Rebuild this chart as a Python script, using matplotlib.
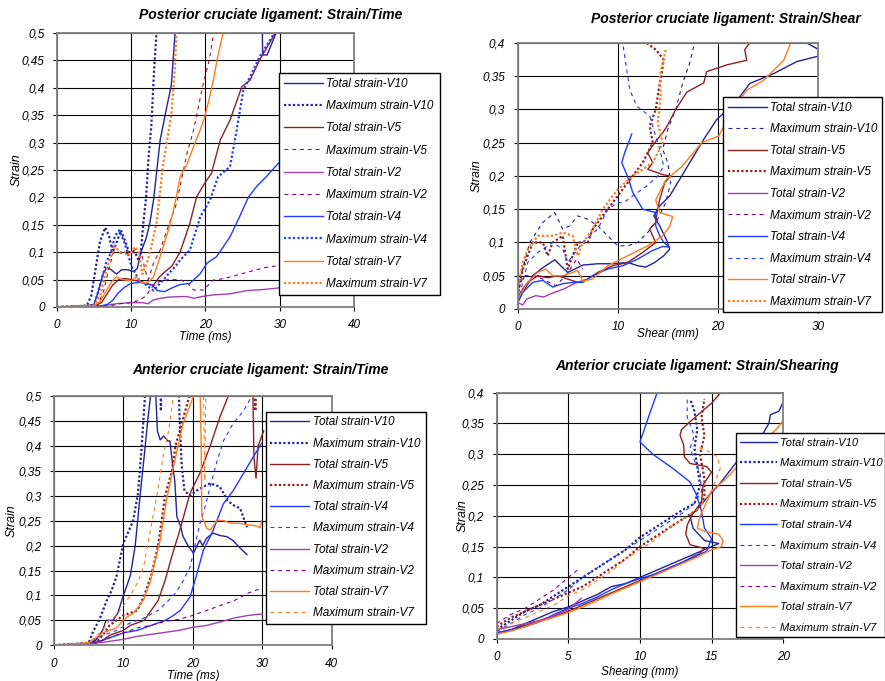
import matplotlib
matplotlib.use("Agg")
import matplotlib.pyplot as plt
from matplotlib.ticker import FuncFormatter, MultipleLocator

plt.rcParams['font.family'] = ['Liberation Sans', 'DejaVu Sans']
plt.rcParams['font.style'] = 'italic'

# ---- Posterior cruciate ligament: strain / time  (t ms, strain)
p1_v10_tot = [(0, 0), (4, 0.002), (5, 0.005), (5.6, 0.03), (6.2, 0.06), (6.7, 0.072), (7.3, 0.068), (8, 0.06),
              (8.7, 0.068), (9.5, 0.068), (10.3, 0.065), (10.8, 0.07), (11.3, 0.1), (12, 0.125), (12.5, 0.153),
              (13, 0.195), (13.9, 0.305), (14.8, 0.366), (15.4, 0.405), (15.9, 0.5), (16.2, 0.55), (27.6, 0.55),
              (27.7, 0.46), (28.3, 0.46), (29.5, 0.5)]
p1_v10_max = [(0, 0), (4, 0.002), (4.6, 0.02), (5.2, 0.07), (5.8, 0.12), (6.5, 0.145), (7, 0.13), (7.5, 0.1),
              (8.1, 0.12), (8.6, 0.14), (9.2, 0.12), (9.7, 0.1), (10.5, 0.1), (11, 0.085), (11.3, 0.1),
              (11.6, 0.15), (12, 0.2), (12.3, 0.268), (12.7, 0.33), (13.1, 0.438), (13.4, 0.5)]
p1_v5_tot = [(0, 0), (5, 0.002), (6, 0.008), (6.8, 0.025), (7.5, 0.04), (8.3, 0.05), (9.2, 0.052), (10, 0.05),
             (11, 0.047), (12, 0.042), (13, 0.04), (13.8, 0.055), (14.6, 0.065), (15.5, 0.075), (16.6, 0.101),
             (17.9, 0.153), (18.8, 0.201), (19.9, 0.226), (20.8, 0.244), (22, 0.305), (23.3, 0.341),
             (24.9, 0.402), (26, 0.414), (27.3, 0.451), (29.4, 0.5)]
p1_v5_max = [(0, 0), (5.5, 0.003), (6.3, 0.03), (7, 0.07), (7.6, 0.1), (8.3, 0.1), (9, 0.095), (9.8, 0.1),
             (10.6, 0.105), (11.3, 0.105), (11.8, 0.07), (12.3, 0.05), (13, 0.08), (13.9, 0.104), (14.8, 0.14),
             (16.1, 0.189), (17.5, 0.28), (18.4, 0.323), (19.7, 0.408), (20.5, 0.45), (21.1, 0.5)]
p1_v2_tot = [(0, 0), (6, 0.002), (7, 0.004), (8, 0.006), (10, 0.008), (11.5, 0.008), (12.3, 0.006), (13, 0.013),
             (14, 0.016), (15, 0.018), (16.6, 0.019), (17.5, 0.019), (18.4, 0.016), (19.5, 0.019), (21, 0.022),
             (23.3, 0.024), (25.6, 0.03), (27.9, 0.032), (30, 0.035)]
p1_v2_max = [(0, 0), (7, 0.002), (8.5, 0.006), (10, 0.008), (11, 0.012), (12, 0.02), (12.7, 0.035),
             (13.5, 0.045), (15, 0.05), (16.5, 0.05), (17.5, 0.045), (18.4, 0.031), (19.7, 0.031),
             (21.05, 0.049), (22.5, 0.052), (24.2, 0.058), (25.5, 0.063), (26.9, 0.068), (28, 0.072),
             (29.6, 0.075), (30, 0.077)]
p1_v4_tot = [(0, 0), (6, 0.002), (6.8, 0.005), (7.5, 0.012), (8.2, 0.025), (9, 0.035), (9.8, 0.042),
             (10.5, 0.044), (11.2, 0.045), (12, 0.043), (12.8, 0.04), (13.5, 0.03), (14.5, 0.028), (15.5, 0.035),
             (16.6, 0.041), (17.9, 0.043), (19.3, 0.061), (20.2, 0.08), (21.5, 0.092), (22.4, 0.11),
             (23.3, 0.128), (24.6, 0.165), (25.8, 0.201), (26.9, 0.22), (28.2, 0.238), (29.8, 0.262), (30, 0.265)]
p1_v4_max = [(0, 0), (5, 0.003), (5.8, 0.04), (6.6, 0.08), (7.3, 0.1), (7.8, 0.13), (8.4, 0.14), (9, 0.12),
             (9.5, 0.1), (10, 0.075), (11, 0.05), (12, 0.04), (13, 0.03), (14, 0.045), (15, 0.06), (16, 0.075),
             (16.6, 0.086), (17.9, 0.104), (18.5, 0.13), (19.3, 0.165), (20.6, 0.195), (21.7, 0.238),
             (23.3, 0.256), (24.2, 0.323), (25.1, 0.396), (26, 0.42), (27.3, 0.457), (29.1, 0.496), (29.3, 0.5)]
p1_v7_tot = [(0, 0), (5, 0.002), (5.8, 0.01), (6.7, 0.031), (7.3, 0.045), (8, 0.055), (8.7, 0.05), (9.4, 0.049),
             (10, 0.048), (10.7, 0.055), (11.3, 0.045), (11.9, 0.043), (12.5, 0.048), (13, 0.055), (13.6, 0.08),
             (14.3, 0.11), (15, 0.14), (15.7, 0.177), (16.6, 0.238), (17.5, 0.26), (18.4, 0.293), (19.2, 0.32),
             (19.9, 0.347), (20.5, 0.38), (21.05, 0.414), (21.7, 0.46), (22.4, 0.502)]
p1_v7_max = [(0, 0), (5, 0.003), (5.8, 0.02), (6.5, 0.06), (7.2, 0.09), (7.8, 0.11), (8.5, 0.1), (9.2, 0.1),
             (9.8, 0.095), (10.5, 0.11), (11, 0.1), (11.5, 0.06), (12.1, 0.08), (12.7, 0.11), (13.4, 0.153),
             (13.8, 0.2), (14.3, 0.262), (14.8, 0.3), (15.4, 0.353), (15.8, 0.42), (16.1, 0.5)]

# ---- Posterior cruciate ligament: strain / shear  (mm, strain)
p2_v10_tot = [(0, 0.01), (0.5, 0.025), (1.5, 0.05), (2.5, 0.062), (3.7, 0.074), (4.3, 0.065), (5, 0.055),
              (5.7, 0.06), (6.5, 0.066), (8, 0.068), (9.5, 0.068), (11, 0.07), (12, 0.065), (12.8, 0.063),
              (13.7, 0.07), (14.6, 0.08), (15.2, 0.09), (14.9, 0.103), (14.2, 0.125), (13.6, 0.14), (14.2, 0.155),
              (15.2, 0.17), (16.2, 0.195), (17.2, 0.22), (18.6, 0.255), (19.9, 0.285), (21, 0.3), (22.2, 0.319),
              (23.2, 0.339), (25.6, 0.354), (27.9, 0.372), (30, 0.38), (30.1, 0.39), (28.9, 0.4)]
p2_v10_max = [(0, 0.02), (0.5, 0.06), (1.2, 0.1), (2.5, 0.13), (3.7, 0.145), (4.5, 0.12), (5.2, 0.125),
              (6, 0.14), (7, 0.135), (8, 0.125), (9, 0.11), (10, 0.095), (11, 0.095), (12, 0.1), (13, 0.115),
              (14, 0.135), (14.8, 0.16), (15.3, 0.19), (15, 0.22), (14.5, 0.24), (15, 0.27), (15.8, 0.3),
              (16.5, 0.34), (17.2, 0.37), (17.6, 0.395)]
p2_v5_tot = [(0, 0.015), (0.5, 0.03), (1, 0.04), (2, 0.05), (3, 0.047), (4, 0.05), (5, 0.045), (6, 0.04),
             (7, 0.045), (8, 0.055), (9.5, 0.065), (11, 0.07), (12.5, 0.085), (13.8, 0.1), (13.2, 0.12),
             (13.8, 0.13), (14, 0.15), (14.2, 0.165), (14.7, 0.19), (15.3, 0.2), (14.5, 0.202), (13, 0.21),
             (13.5, 0.22), (13, 0.235), (13.7, 0.25), (14.5, 0.265), (14.9, 0.274), (15.8, 0.3), (16.9, 0.326),
             (18.6, 0.34), (18.9, 0.357), (20.9, 0.367), (22.9, 0.374), (22.7, 0.39), (23.2, 0.4)]
p2_v5_max = [(0, 0.02), (0.5, 0.06), (1, 0.08), (1.5, 0.1), (2.5, 0.1), (3, 0.08), (3.5, 0.1), (4.5, 0.11),
             (5, 0.06), (5.5, 0.08), (6, 0.1), (7, 0.1), (7.5, 0.12), (8.5, 0.14), (9.5, 0.16), (10.5, 0.18),
             (11.5, 0.2), (12.5, 0.22), (13.5, 0.25), (13.2, 0.275), (13.8, 0.3), (14.1, 0.33), (14.4, 0.355),
             (14.6, 0.375), (13.8, 0.39), (12.9, 0.4)]
p2_v2_tot = [(0, 0.01), (0.5, 0.006), (0.9, 0.015), (1.8, 0.02), (2.6, 0.018), (3.5, 0.024), (4.6, 0.03),
             (5.9, 0.04), (6.6, 0.042)]
p2_v2_max = [(0, 0.03), (0.6, 0.05), (1.5, 0.05), (2.5, 0.045), (3.8, 0.035), (4.8, 0.05), (5.9, 0.075),
             (6.5, 0.06)]
p2_v4_tot = [(0, 0.01), (0.5, 0.025), (1.5, 0.04), (2.5, 0.043), (3.5, 0.033), (4.5, 0.038), (5.5, 0.04),
             (6.5, 0.04), (7.5, 0.05), (9, 0.06), (10.5, 0.065), (12, 0.075), (13.5, 0.088), (14.5, 0.094),
             (15.2, 0.093), (14.6, 0.1), (14.2, 0.11), (13.8, 0.125), (13.8, 0.145), (12.5, 0.15), (12.1, 0.16),
             (11.5, 0.175), (11.1, 0.195), (10.4, 0.22), (10.7, 0.235), (11.4, 0.263)]
p2_v4_max = [(0, 0.01), (0.5, 0.04), (1, 0.07), (2, 0.085), (2.5, 0.09), (3.5, 0.1), (4.5, 0.09), (5, 0.07),
             (5.5, 0.08), (6.5, 0.1), (8, 0.12), (9, 0.15), (10, 0.16), (10.6, 0.16), (11.5, 0.17), (12.9, 0.185),
             (14, 0.2), (14.6, 0.215), (14.2, 0.24), (13.9, 0.255), (13.2, 0.29), (11.9, 0.305), (11.2, 0.33),
             (10.8, 0.37), (10.6, 0.39), (10.5, 0.4)]
p2_v7_tot = [(0, 0.015), (1, 0.04), (2, 0.055), (2.8, 0.06), (3.5, 0.05), (4.5, 0.05), (5.5, 0.055), (6, 0.058),
             (6.5, 0.042), (7.5, 0.045), (9, 0.065), (11, 0.08), (13, 0.095), (14.5, 0.11), (15.2, 0.124),
             (15.5, 0.139), (14.2, 0.145), (13.8, 0.164), (14.8, 0.194), (16.4, 0.214), (18.4, 0.25),
             (20.1, 0.26), (21.5, 0.3), (22.9, 0.329), (24.6, 0.344), (25.6, 0.359), (26.6, 0.374), (27.3, 0.4)]
p2_v7_max = [(0, 0.03), (0.5, 0.07), (1, 0.09), (2, 0.11), (3.5, 0.11), (4.5, 0.115), (5.5, 0.11), (6, 0.08),
             (6.5, 0.1), (7.5, 0.12), (8.5, 0.15), (10, 0.18), (11.5, 0.2), (12.5, 0.21), (13.5, 0.22),
             (14.5, 0.25), (14, 0.28), (14.3, 0.32), (14.2, 0.35), (14.5, 0.37), (14.8, 0.39)]

# ---- Anterior cruciate ligament: strain / time
p3_v10_tot = [(0, 0), (5, 0.003), (6, 0.01), (7, 0.03), (7.5, 0.05), (8.5, 0.05), (9.2, 0.065), (10, 0.1),
              (11, 0.14), (11.7, 0.2), (12.4, 0.3), (13, 0.38), (13.5, 0.45), (13.9, 0.5), (14.1, 0.52),
              (14.6, 0.52), (14.9, 0.43), (15.3, 0.412), (15.8, 0.42), (16.4, 0.41), (16.7, 0.41), (17.1, 0.36),
              (17.4, 0.33), (17.7, 0.258), (18.2, 0.24), (18.6, 0.218), (19.3, 0.2), (20.1, 0.185), (20.6, 0.2),
              (21, 0.211), (21.4, 0.2), (22, 0.215), (22.9, 0.225), (24, 0.22), (24.9, 0.218), (25.8, 0.21),
              (26.6, 0.198), (27.8, 0.182)]
p3_v10_max = [(0, 0), (5, 0.005), (5.7, 0.03), (6.5, 0.05), (7.6, 0.09), (8.3, 0.11), (9, 0.138), (10, 0.205),
              (11.4, 0.25), (12.1, 0.305), (12.6, 0.392), (13.1, 0.5), (13.5, 0.55), (15.3, 0.55), (15.4, 0.47),
              (15.5, 0.55), (17.9, 0.55), (18.1, 0.45), (18.4, 0.36), (18.8, 0.31), (19.6, 0.3), (20.5, 0.31),
              (21.5, 0.318), (22.5, 0.325), (23.9, 0.318), (25, 0.29), (26, 0.28), (26.8, 0.275), (27.8, 0.237)]
p3_v5_tot = [(0, 0), (6, 0.005), (7, 0.01), (8, 0.02), (9, 0.025), (10, 0.03), (11, 0.04), (12, 0.045),
             (13, 0.05), (14, 0.07), (15, 0.09), (16, 0.13), (17, 0.18), (18, 0.225), (19.6, 0.305), (21, 0.345),
             (22.5, 0.4), (23.9, 0.458), (25.1, 0.5), (25.5, 0.55), (28.6, 0.55), (28.8, 0.378), (29.1, 0.335),
             (29.4, 0.4), (30.2, 0.43)]
p3_v5_max = [(0, 0), (6, 0.005), (7, 0.02), (8, 0.04), (9, 0.05), (10, 0.06), (11, 0.065), (12, 0.07),
             (13, 0.1), (14, 0.14), (15, 0.2), (15.5, 0.25), (16, 0.3), (17, 0.35), (17.5, 0.4), (18.5, 0.45),
             (19.5, 0.5), (20, 0.55), (28.8, 0.55), (29, 0.47), (29.2, 0.55)]
p3_v4_tot = [(0, 0), (5, 0.003), (7, 0.01), (9, 0.02), (10, 0.025), (12, 0.03), (13, 0.035), (14, 0.04),
             (15, 0.045), (16, 0.05), (17, 0.058), (18.2, 0.07), (19.6, 0.097), (20.6, 0.144), (21.5, 0.19),
             (22.9, 0.23), (24.4, 0.284), (25.8, 0.31), (27.3, 0.345), (28.7, 0.378), (29.9, 0.405)]
p3_v4_max = [(0, 0), (5, 0.005), (7, 0.02), (9, 0.03), (11, 0.045), (13, 0.055), (15, 0.07), (16.5, 0.09),
             (17.5, 0.105), (18.4, 0.124), (19.6, 0.157), (20.3, 0.2), (21, 0.243), (21.8, 0.28), (22.5, 0.318),
             (23.5, 0.37), (24.4, 0.41), (25.8, 0.445), (27.3, 0.47), (28.5, 0.5)]
p3_v2_tot = [(0, 0), (5, 0.003), (7, 0.006), (9, 0.01), (10, 0.012), (12, 0.018), (14, 0.022), (16, 0.026),
             (18, 0.03), (20, 0.036), (22, 0.04), (24, 0.047), (26, 0.055), (28, 0.06), (30, 0.063)]
p3_v2_max = [(0, 0), (5, 0.003), (7, 0.01), (9, 0.02), (10, 0.025), (12, 0.035), (14, 0.04), (16, 0.048),
             (18, 0.052), (20, 0.06), (22, 0.07), (24, 0.08), (26, 0.09), (28, 0.105), (30, 0.115)]
p3_v7_tot = [(0, 0), (5, 0.005), (6, 0.015), (7, 0.025), (8, 0.03), (9, 0.035), (10, 0.05), (10.5, 0.057),
             (11.5, 0.065), (12.9, 0.091), (13.8, 0.125), (15.3, 0.211), (16.2, 0.291), (17.2, 0.358),
             (18.6, 0.445), (20.1, 0.5), (20.5, 0.55), (21, 0.55), (21.2, 0.4), (21.3, 0.258), (22, 0.235),
             (22.5, 0.231), (23.5, 0.251), (24.5, 0.25), (25.4, 0.245), (26.5, 0.245), (27.8, 0.242),
             (29, 0.24), (29.7, 0.236), (29.9, 0.25)]
p3_v7_max = [(0, 0), (5, 0.005), (7, 0.03), (8, 0.05), (9, 0.06), (10, 0.08), (11, 0.1), (12, 0.125),
             (12.9, 0.157), (13.8, 0.225), (14.8, 0.298), (15.7, 0.378), (16.5, 0.43), (17.2, 0.5), (17.5, 0.55),
             (21.5, 0.55), (21.7, 0.33), (21.9, 0.55)]

# ---- Anterior cruciate ligament: strain / shearing
p4_v10_tot = [(0, 0.008), (1, 0.015), (2, 0.025), (3, 0.035), (4, 0.045), (5, 0.052), (6, 0.062), (7, 0.072),
              (8, 0.085), (9, 0.09), (10, 0.1), (11, 0.11), (12, 0.12), (13, 0.13), (14, 0.14), (15, 0.15),
              (15.5, 0.155), (14.5, 0.16), (13.7, 0.18), (13.5, 0.2), (14, 0.21), (14.7, 0.23), (15.5, 0.25),
              (16.5, 0.28), (17.5, 0.31), (18.5, 0.33), (19, 0.35), (19.1, 0.364), (19.7, 0.37), (20, 0.385)]
p4_v10_max = [(0, 0.015), (1, 0.03), (2, 0.045), (3, 0.055), (4, 0.07), (5, 0.085), (6, 0.1), (7, 0.115),
              (8, 0.13), (9, 0.145), (10, 0.165), (11, 0.18), (12, 0.195), (13, 0.21), (13.8, 0.22),
              (14.2, 0.25), (14, 0.28), (13.8, 0.31), (14, 0.34), (13.8, 0.37), (13.5, 0.39)]
p4_v5_tot = [(0, 0.01), (1, 0.015), (2, 0.022), (3, 0.03), (4, 0.037), (5, 0.045), (6, 0.055), (7, 0.065),
             (8, 0.075), (9, 0.085), (10, 0.095), (11, 0.105), (12, 0.115), (13, 0.125), (14, 0.135),
             (14.5, 0.147), (13.5, 0.153), (13.2, 0.17), (13.3, 0.185), (13.6, 0.2), (14.3, 0.223), (14.4, 0.25),
             (15, 0.271), (14.65, 0.28), (13.5, 0.285), (13.1, 0.296), (13.05, 0.315), (12.8, 0.331),
             (12.9, 0.34), (13.5, 0.353), (14.3, 0.369), (15, 0.383), (15.6, 0.399)]
p4_v5_max = [(0, 0.02), (1, 0.035), (2, 0.045), (3, 0.055), (4, 0.065), (5, 0.075), (6, 0.085), (7, 0.1),
             (8, 0.115), (9, 0.13), (10, 0.15), (11, 0.165), (12, 0.18), (13, 0.195), (14, 0.21), (14.5, 0.23),
             (14.5, 0.26), (14.2, 0.3), (14.5, 0.33), (14.3, 0.36), (14.5, 0.39)]
p4_v4_tot = [(0, 0.01), (1, 0.015), (2, 0.02), (3, 0.028), (4, 0.04), (5, 0.05), (6, 0.058), (7, 0.068),
             (8, 0.08), (9, 0.09), (10, 0.098), (11, 0.105), (12, 0.115), (13, 0.125), (13.8, 0.135),
             (14.65, 0.142), (15, 0.163), (14.5, 0.18), (14.3, 0.207), (13.95, 0.234), (13.5, 0.255),
             (12.3, 0.277), (10.9, 0.3), (10, 0.32), (10.3, 0.34), (10.65, 0.364), (11.2, 0.4)]
p4_v4_max = [(0, 0.012), (1, 0.025), (2, 0.04), (3, 0.05), (4, 0.065), (5, 0.08), (6, 0.1), (7, 0.115),
             (8, 0.13), (9, 0.145), (10, 0.16), (11, 0.175), (12, 0.19), (13, 0.205), (13.8, 0.22), (14.3, 0.24),
             (14.2, 0.27), (13.8, 0.29), (13.5, 0.31), (13.8, 0.33), (13.3, 0.36), (13.3, 0.39)]
p4_v2_tot = [(0, 0.015), (1, 0.02), (2, 0.025), (3, 0.03), (4, 0.038), (5, 0.048), (5.9, 0.066)]
p4_v2_max = [(0, 0.025), (1, 0.04), (2, 0.05), (3, 0.065), (4, 0.08), (5, 0.1), (5.8, 0.115)]
p4_v7_tot = [(0, 0.008), (1, 0.013), (2, 0.02), (3, 0.028), (4, 0.035), (5, 0.043), (6, 0.052), (7, 0.062),
             (8, 0.073), (9, 0.083), (10, 0.093), (11, 0.103), (12, 0.113), (13, 0.123), (14, 0.133),
             (15, 0.145), (15.7, 0.15), (15.8, 0.16), (15.5, 0.17), (14.5, 0.175), (14, 0.18), (14.2, 0.2),
             (14.6, 0.22), (15, 0.24), (16, 0.26), (16.8, 0.28), (17.5, 0.3), (18.5, 0.32), (19, 0.33),
             (19.5, 0.34), (20, 0.355)]
p4_v7_max = [(0, 0.015), (1, 0.025), (2, 0.035), (3, 0.045), (4, 0.055), (5, 0.07), (6, 0.08), (7, 0.095),
             (8, 0.11), (9, 0.13), (10, 0.145), (11, 0.16), (12, 0.18), (13, 0.195), (14, 0.21), (15, 0.24),
             (15.6, 0.277), (15.4, 0.296), (14.6, 0.307), (13.95, 0.312)]

NAVY = '#22229a'
MAROON = '#8e2020'
PURPLE = '#a040b0'
PURPLE_D = '#800080'
BLUE = '#1f3cff'
ORANGE = '#ff7a1a'

SOLID = dict(ls='-', lw=1.0)
DOTS = dict(ls=(0, (1.0, 1.0)), lw=1.6)
DASH = dict(ls=(0, (3.5, 3.5)), lw=0.8)


def comma(v, pos):
    return ('%g' % round(v, 3)).replace('.', ',')


def panel(rect, series, xmax, xstep, ymax, xlabel, title, title_xy, leg_box, xlab_y, ylab_x,
          leg_space, leg_size=8.5):
    ax = fig.add_axes(rect)
    handles = []
    for pts, label, color, style in series:
        xs = [p[0] for p in pts]
        ys = [p[1] for p in pts]
        h, = ax.plot(xs, ys, color=color, label=label, **style)
        handles.append(h)
    ax.set_xlim(0, xmax)
    ax.set_ylim(0, ymax)
    ax.xaxis.set_major_locator(MultipleLocator(xstep))
    ax.yaxis.set_major_locator(MultipleLocator(0.05))
    ax.yaxis.set_major_formatter(FuncFormatter(comma))
    ax.xaxis.set_major_formatter(FuncFormatter(comma))
    ax.grid(True, color='black', lw=0.8)
    ax.set_axisbelow(True)
    for s in ax.spines.values():
        s.set_color('#808080')
        s.set_linewidth(1.3)
    ax.tick_params(direction='out', length=3, width=0.8, labelsize=8.5, pad=6)
    ax.set_xlabel(xlabel, fontsize=8.5)
    ax.xaxis.set_label_coords(0.5, xlab_y)
    ax.set_ylabel('Strain', fontsize=9)
    ax.yaxis.set_label_coords(ylab_x, 0.5)
    fig.text(title_xy[0], title_xy[1], title, ha='center', va='center',
             fontsize=10, fontweight='bold', style='italic')
    fig.legend(handles=handles, loc='upper left', bbox_to_anchor=leg_box,
               bbox_transform=fig.transFigure, mode='expand', fontsize=leg_size,
               frameon=True, fancybox=False, edgecolor='black', framealpha=1,
               borderaxespad=0, labelspacing=leg_space, handlelength=3.3,
               handletextpad=0.3, borderpad=0.4)
    return ax


fig = plt.figure(figsize=(8.85, 6.81), dpi=100)

panel([0.0644, 0.5492, 0.3356, 0.4023],
      [(p1_v10_tot, 'Total strain-V10', NAVY, SOLID),
       (p1_v10_max, 'Maximum strain-V10', NAVY, DOTS),
       (p1_v5_tot, 'Total strain-V5', MAROON, SOLID),
       (p1_v5_max, 'Maximum strain-V5', MAROON, DASH),
       (p1_v2_tot, 'Total strain-V2', PURPLE, SOLID),
       (p1_v2_max, 'Maximum strain-V2', PURPLE_D, DASH),
       (p1_v4_tot, 'Total strain-V4', BLUE, SOLID),
       (p1_v4_max, 'Maximum strain-V4', BLUE, DOTS),
       (p1_v7_tot, 'Total strain-V7', ORANGE, SOLID),
       (p1_v7_max, 'Maximum strain-V7', ORANGE, DOTS)],
      40, 10, 0.5, 'Time (ms)', 'Posterior cruciate ligament: Strain/Time',
      (0.306, 0.978), (0.3153, 0.5771, 0.182, 0.3157), -0.088, -0.1145, 0.87)

panel([0.585, 0.5463, 0.339, 0.3906],
      [(p2_v10_tot, 'Total strain-V10', NAVY, SOLID),
       (p2_v10_max, 'Maximum strain-V10', NAVY, DASH),
       (p2_v5_tot, 'Total strain-V5', MAROON, SOLID),
       (p2_v5_max, 'Maximum strain-V5', MAROON, DOTS),
       (p2_v2_tot, 'Total strain-V2', PURPLE, SOLID),
       (p2_v2_max, 'Maximum strain-V2', PURPLE_D, DASH),
       (p2_v4_tot, 'Total strain-V4', BLUE, SOLID),
       (p2_v4_max, 'Maximum strain-V4', BLUE, DASH),
       (p2_v7_tot, 'Total strain-V7', ORANGE, SOLID),
       (p2_v7_max, 'Maximum strain-V7', ORANGE, DOTS)],
      30, 10, 0.4, 'Shear (mm)', 'Posterior cruciate ligament: Strain/Shear',
      (0.8198, 0.972), (0.817, 0.5522, 0.18, 0.3054), -0.072, -0.117, 0.81)

panel([0.061, 0.0524, 0.3138, 0.366],
      [(p3_v10_tot, 'Total strain-V10', NAVY, SOLID),
       (p3_v10_max, 'Maximum strain-V10', NAVY, DOTS),
       (p3_v5_tot, 'Total strain-V5', MAROON, SOLID),
       (p3_v5_max, 'Maximum strain-V5', MAROON, DOTS),
       (p3_v4_tot, 'Total strain-V4', BLUE, SOLID),
       (p3_v4_max, 'Maximum strain-V4', BLUE, DASH),
       (p3_v2_tot, 'Total strain-V2', PURPLE, SOLID),
       (p3_v2_max, 'Maximum strain-V2', PURPLE_D, DASH),
       (p3_v7_tot, 'Total strain-V7', ORANGE, SOLID),
       (p3_v7_max, 'Maximum strain-V7', ORANGE, DASH)],
      40, 10, 0.5, 'Time (ms)', 'Anterior cruciate ligament: Strain/Time',
      (0.2938, 0.4567), (0.3002, 0.0944, 0.1811, 0.301), -0.098, -0.13, 0.78)

panel([0.5612, 0.0617, 0.3238, 0.3617],
      [(p4_v10_tot, 'Total strain-V10', NAVY, SOLID),
       (p4_v10_max, 'Maximum strain-V10', NAVY, DOTS),
       (p4_v5_tot, 'Total strain-V5', MAROON, SOLID),
       (p4_v5_max, 'Maximum strain-V5', MAROON, DOTS),
       (p4_v4_tot, 'Total strain-V4', BLUE, SOLID),
       (p4_v4_max, 'Maximum strain-V4', BLUE, DASH),
       (p4_v2_tot, 'Total strain-V2', PURPLE, SOLID),
       (p4_v2_max, 'Maximum strain-V2', PURPLE_D, DASH),
       (p4_v7_tot, 'Total strain-V7', ORANGE, SOLID),
       (p4_v7_max, 'Maximum strain-V7', ORANGE, DASH)],
      20, 5, 0.4, 'Shearing (mm)', 'Anterior cruciate ligament: Strain/Shearing',
      (0.7872, 0.4626), (0.8313, 0.066, 0.1687, 0.2977), -0.11, -0.098, 0.95, 8.0)

fig.savefig('out.png', dpi=100)
